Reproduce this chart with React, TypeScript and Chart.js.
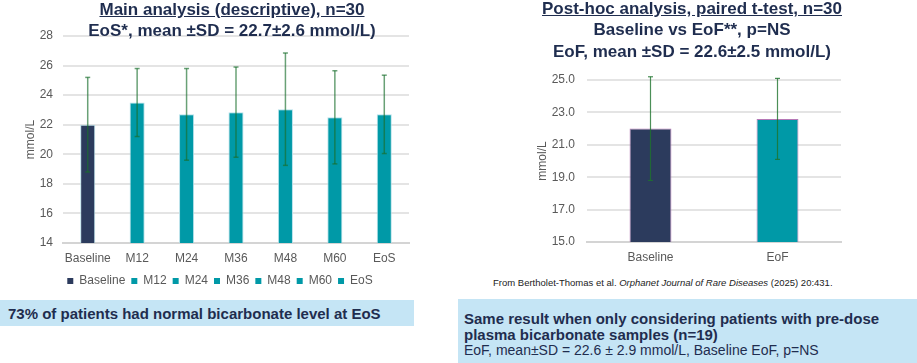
import React, { useEffect, useRef } from "react";
import { Chart, registerables } from "chart.js";
Chart.register(...registerables);

// ---------- Data ----------
const mainCategories = ["Baseline", "M12", "M24", "M36", "M48", "M60", "EoS"];
const mainMeans = [22.0, 23.5, 22.7, 22.85, 23.05, 22.5, 22.7];
const mainSD = [3.2, 2.3, 3.1, 3.05, 3.8, 3.15, 2.65];
const mainYMin = 14;
const mainYMax = 28;
const mainYStep = 2;

const postCategories = ["Baseline", "EoF"];
const postMeans = [22.0, 22.6];
const postSD = [3.2, 2.5];
const postYMin = 15;
const postYMax = 25;
const postYStep = 2;

const leftTitle1 = "Main analysis (descriptive), n=30";
const leftTitle2 = "EoS*, mean \u00b1SD = 22.7\u00b12.6 mmol/L)";
const rightTitle1 = "Post-hoc analysis, paired t-test, n=30";
const rightTitle2 = "Baseline vs EoF**, p=NS";
const rightTitle3 = "EoF, mean \u00b1SD = 22.6\u00b12.5 mmol/L)";
const leftBoxText = "73% of patients had normal bicarbonate level at EoS";
const rightBoxLine1 = "Same result when only considering patients with pre-dose";
const rightBoxLine2 = "plasma bicarbonate samples (n=19)";
const rightBoxLine3 = "EoF, mean\u00b1SD = 22.6 \u00b1 2.9 mmol/L, Baseline EoF, p=NS";
const yAxisLabel = "mmol/L";

// ---------- Styles ----------
const NAVY = "#2c3b5d";
const TEAL = "#0099a7";
const TEXT_NAVY = "#1f2d4f";
const TICK = "#595959";
const FONT = "'Liberation Sans', Arial, sans-serif";

function errorBarPlugin(sds: number[], color: string, width: number, cap: number) {
  return {
    id: "errbars",
    afterDatasetsDraw(chart: any) {
      const meta = chart.getDatasetMeta(0);
      const ys = chart.scales.y;
      const data = chart.data.datasets[0].data as number[];
      const ctx = chart.ctx;
      ctx.save();
      ctx.strokeStyle = color;
      ctx.lineWidth = width;
      meta.data.forEach((el: any, i: number) => {
        const m = data[i];
        const s = sds[i];
        const x = el.x;
        const t = ys.getPixelForValue(m + s);
        const b = ys.getPixelForValue(m - s);
        ctx.beginPath();
        ctx.moveTo(x, t);
        ctx.lineTo(x, b);
        ctx.stroke();
        ctx.beginPath();
        ctx.moveTo(x - cap, t);
        ctx.lineTo(x + cap, t);
        ctx.stroke();
        ctx.beginPath();
        ctx.moveTo(x - cap, b);
        ctx.lineTo(x + cap, b);
        ctx.stroke();
      });
      ctx.restore();
    },
  };
}

const legendShift = {
  id: "legendShift",
  afterLayout(chart: any) {
    if (chart.legend) {
      chart.legend.left += 6;
      chart.legend.right += 6;
    }
  },
};

function MainChart() {
  const ref = useRef<HTMLCanvasElement>(null);
  useEffect(() => {
    if (!ref.current) return;
    Chart.defaults.font.family = FONT;
    const colors = mainCategories.map((_, i) => (i === 0 ? NAVY : TEAL));
    const chart = new Chart(ref.current, {
      type: "bar",
      data: {
        labels: mainCategories,
        datasets: [
          {
            data: mainMeans,
            backgroundColor: colors,
            borderColor: "rgba(175,222,232,0.9)",
            borderWidth: 1,
            barPercentage: 0.305,
            categoryPercentage: 1,
          },
        ],
      },
      options: {
        animation: false,
        responsive: false,
        devicePixelRatio: 1,
        layout: { padding: { left: 19, top: 36, right: 51, bottom: 0 } },
        plugins: {
          tooltip: { enabled: false },
          legend: {
            position: "bottom",
            labels: {
              boxWidth: 6,
              boxHeight: 6,
              padding: 6,
              color: TICK,
              font: { size: 12, family: FONT },
              generateLabels: () =>
                mainCategories.map((c, i) => ({
                  text: c,
                  fillStyle: colors[i],
                  strokeStyle: colors[i],
                  lineWidth: 0,
                  hidden: false,
                  index: i,
                  fontColor: TICK,
                })),
            },
          },
        },
        scales: {
          x: {
            grid: { display: false, drawTicks: false },
            border: { display: true, color: "#d4d4d4", width: 2 },
            ticks: { color: TICK, font: { size: 12 }, padding: 8, maxRotation: 0, minRotation: 0, autoSkip: false },
            afterFit: (s: any) => {
              s.height = 26;
            },
          },
          y: {
            min: mainYMin,
            max: mainYMax,
            ticks: { stepSize: mainYStep, color: TICK, font: { size: 12 }, padding: 10 },
            grid: { color: "#e4e4e4", lineWidth: 2, drawTicks: false },
            border: { display: false },
            title: { display: true, text: yAxisLabel, color: TICK, font: { size: 12 }, padding: 4 },
            afterFit: (s: any) => {
              s.width = 44;
            },
          },
        },
      },
      plugins: [errorBarPlugin(mainSD, "rgba(25,110,45,0.65)", 1.5, 2.5), legendShift],
    });
    return () => chart.destroy();
  }, []);
  return (
    <canvas
      ref={ref}
      width={460}
      height={297}
      style={{ position: "absolute", left: 0, top: 0, width: 460, height: 297 }}
    />
  );
}

function PostChart() {
  const ref = useRef<HTMLCanvasElement>(null);
  useEffect(() => {
    if (!ref.current) return;
    const colors = [NAVY, TEAL];
    const chart = new Chart(ref.current, {
      type: "bar",
      data: {
        labels: postCategories,
        datasets: [
          {
            data: postMeans,
            backgroundColor: colors,
            borderColor: "#b678b6",
            borderWidth: 1,
            barPercentage: 0.33,
            categoryPercentage: 1,
          },
        ],
      },
      options: {
        animation: false,
        responsive: false,
        devicePixelRatio: 1,
        layout: { padding: { left: 11, top: 80, right: 9, bottom: 0 } },
        plugins: { tooltip: { enabled: false }, legend: { display: false } },
        scales: {
          x: {
            grid: { display: false, drawTicks: false },
            border: { display: true, color: "#d4d4d4", width: 2 },
            ticks: { color: TICK, font: { size: 12 }, padding: 8, maxRotation: 0, minRotation: 0 },
            afterFit: (s: any) => {
              s.height = 30;
            },
          },
          y: {
            min: postYMin,
            max: postYMax,
            ticks: {
              stepSize: postYStep,
              color: TICK,
              font: { size: 12 },
              padding: 12,
              callback: (v: any) => Number(v).toFixed(1),
            },
            grid: { color: "#e4e4e4", lineWidth: 2, drawTicks: false },
            border: { display: false },
            title: { display: true, text: yAxisLabel, color: TICK, font: { size: 12 }, padding: 4 },
            afterFit: (s: any) => {
              s.width = 56;
            },
          },
        },
      },
      plugins: [errorBarPlugin(postSD, "rgba(30,115,45,0.8)", 1.2, 2.5)],
    });
    return () => chart.destroy();
  }, []);
  return (
    <canvas
      ref={ref}
      width={330}
      height={272}
      style={{ position: "absolute", left: 520, top: 0, width: 330, height: 272 }}
    />
  );
}

const titleStyle: React.CSSProperties = {
  position: "absolute",
  fontFamily: FONT,
  fontWeight: "bold",
  fontSize: 17,
  lineHeight: "20px",
  color: TEXT_NAVY,
  textAlign: "center",
  whiteSpace: "nowrap",
};

export default function App() {
  return (
    <div
      style={{
        position: "absolute",
        left: 0,
        top: 0,
        width: 917,
        height: 363,
        overflow: "hidden",
        background: "#ffffff",
        fontFamily: FONT,
      }}
    >
      <MainChart />
      <PostChart />

      <div style={{ ...titleStyle, left: 0, width: 464, top: 0, textDecoration: "underline" }}>{leftTitle1}</div>
      <div style={{ ...titleStyle, left: 0, width: 464, top: 21 }}>{leftTitle2}</div>

      <div style={{ ...titleStyle, left: 462, width: 460, top: -1, textDecoration: "underline" }}>{rightTitle1}</div>
      <div style={{ ...titleStyle, left: 462, width: 460, top: 20 }}>{rightTitle2}</div>
      <div style={{ ...titleStyle, left: 462, width: 460, top: 42 }}>{rightTitle3}</div>

      <div
        style={{
          position: "absolute",
          left: 493,
          top: 276,
          fontSize: 9.5,
          lineHeight: "14px",
          color: "#222",
          whiteSpace: "nowrap",
        }}
      >
        From Bertholet-Thomas et al. <i>Orphanet Journal of Rare Diseases</i> (2025) 20:431.
      </div>

      <div
        style={{
          position: "absolute",
          left: 0,
          top: 300,
          width: 414,
          height: 26,
          background: "#c5e5f5",
        }}
      >
        <div
          style={{
            position: "absolute",
            left: 8,
            top: 1,
            lineHeight: "26px",
            fontSize: 15,
            fontWeight: "bold",
            color: TEXT_NAVY,
            whiteSpace: "nowrap",
          }}
        >
          {leftBoxText}
        </div>
      </div>

      <div
        style={{
          position: "absolute",
          left: 458,
          top: 299,
          width: 459,
          height: 64,
          background: "#c5e5f5",
        }}
      >
        <div style={{ position: "absolute", left: 6, top: 11, fontSize: 15, lineHeight: "17px", fontWeight: "bold", color: TEXT_NAVY, whiteSpace: "nowrap" }}>
          {rightBoxLine1}
        </div>
        <div style={{ position: "absolute", left: 6, top: 27, fontSize: 15, lineHeight: "17px", fontWeight: "bold", color: TEXT_NAVY, whiteSpace: "nowrap" }}>
          {rightBoxLine2}
        </div>
        <div style={{ position: "absolute", left: 6, top: 43, fontSize: 14, lineHeight: "17px", color: TEXT_NAVY, whiteSpace: "nowrap" }}>
          {rightBoxLine3}
        </div>
      </div>
    </div>
  );
}
